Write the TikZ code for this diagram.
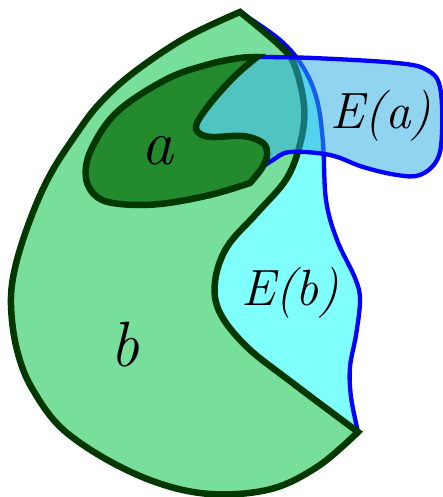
\documentclass[tikz,border=0pt]{standalone}
\definecolor{bgreen}{RGB}{120,222,155}
\definecolor{agreen}{RGB}{35,138,46}
\definecolor{dgreen}{RGB}{0,56,0}
\definecolor{ebcyan}{RGB}{128,255,255}
\definecolor{eablue}{RGB}{45,173,226}
\definecolor{lineblue}{RGB}{0,0,255}
\begin{document}
\begin{tikzpicture}[x=1pt,y=-1pt,
  greenline/.style={draw=dgreen,line width=6.5pt},
  blueline/.style={draw=lineblue,line width=4.3pt,line cap=round},
  lbl/.style={font=\itshape\fontsize{51}{51}\selectfont,inner sep=0pt},
  biglbl/.style={font=\itshape\fontsize{64}{64}\selectfont,inner sep=0pt}]
\useasboundingbox (0,0) rectangle (443,497);
% E(b) fill
\fill[ebcyan] plot[smooth,tension=0.6] coordinates {(240,12) (280,40) (303,67) (317,100) (323,143) (326,200) (337,240) (355,278) (360,300) (356,335) (350,367) (351,397) (358,432)}
  -- plot[smooth,tension=0.6] coordinates {(358,432) (290,381) (247,347) (220,313) (215,282) (227,247) (257,213) (287,178) (301,140) (304,105) (294,64) (278,44) (240,12)} -- cycle;
% E(b) outline
\draw[blueline] plot[smooth,tension=0.6] coordinates {(240,12) (280,40) (303,67) (317,100) (323,143) (326,200) (337,240) (355,278) (360,300) (356,335) (350,367) (351,397) (358,432)};
% b
\filldraw[fill=bgreen,greenline] plot[smooth,tension=0.6] coordinates {(240,12) (185,38) (133,73) (100,103) (77,133) (50,175) (30,220) (15,268) (11,305) (17,350) (33,390) (67,433) (133,473) (200,493) (267,490) (317,467) (358,432)}
  -- plot[smooth,tension=0.6] coordinates {(358,432) (290,381) (247,347) (220,313) (215,282) (227,247) (257,213) (287,178) (301,140) (304,105) (294,64) (278,44) (240,12)} -- cycle;
% E(a) fill
\fill[eablue,fill opacity=0.53] plot[smooth,tension=0.6] coordinates {(257,57) (236,75) (213,100) (197,123) (199,133) (212,137) (243,136) (263,143) (267,155) (264,166)}
  -- plot[smooth,tension=0.6] coordinates {(264,166) (273,160) (290,152) (330,155) (363,167) (397,175) (420,175) (437,160) (442,133) (440,87) (427,70) (397,63) (313,58) (257,57)} -- cycle;
% E(a) outline
\draw[blueline] plot[smooth,tension=0.6] coordinates {(264,166) (273,160) (290,152) (330,155) (363,167) (397,175) (420,175) (437,160) (442,133) (440,87) (427,70) (397,63) (313,58) (257,57)};
% a
\filldraw[fill=agreen,greenline] plot[smooth,tension=0.6] coordinates {(257,57) (236,75) (213,100) (197,123) (199,133) (212,137) (243,136) (263,143) (267,155) (262,168) (250,183)}
  -- plot[smooth,tension=0.6] coordinates {(250,183) (210,195) (160,204) (120,204) (97,197) (86,178) (91,150) (117,112) (167,79) (210,64) (240,58) (257,57)} -- cycle;
% labels
\node[biglbl] (la) at (157,151) {a};
\node[biglbl] (lb) at (125,345) {b};
\node[lbl] (lea) at (381,116) {E(a)};
\node[lbl] (leb) at (290,293) {E(b)};
\end{tikzpicture}
\end{document}
